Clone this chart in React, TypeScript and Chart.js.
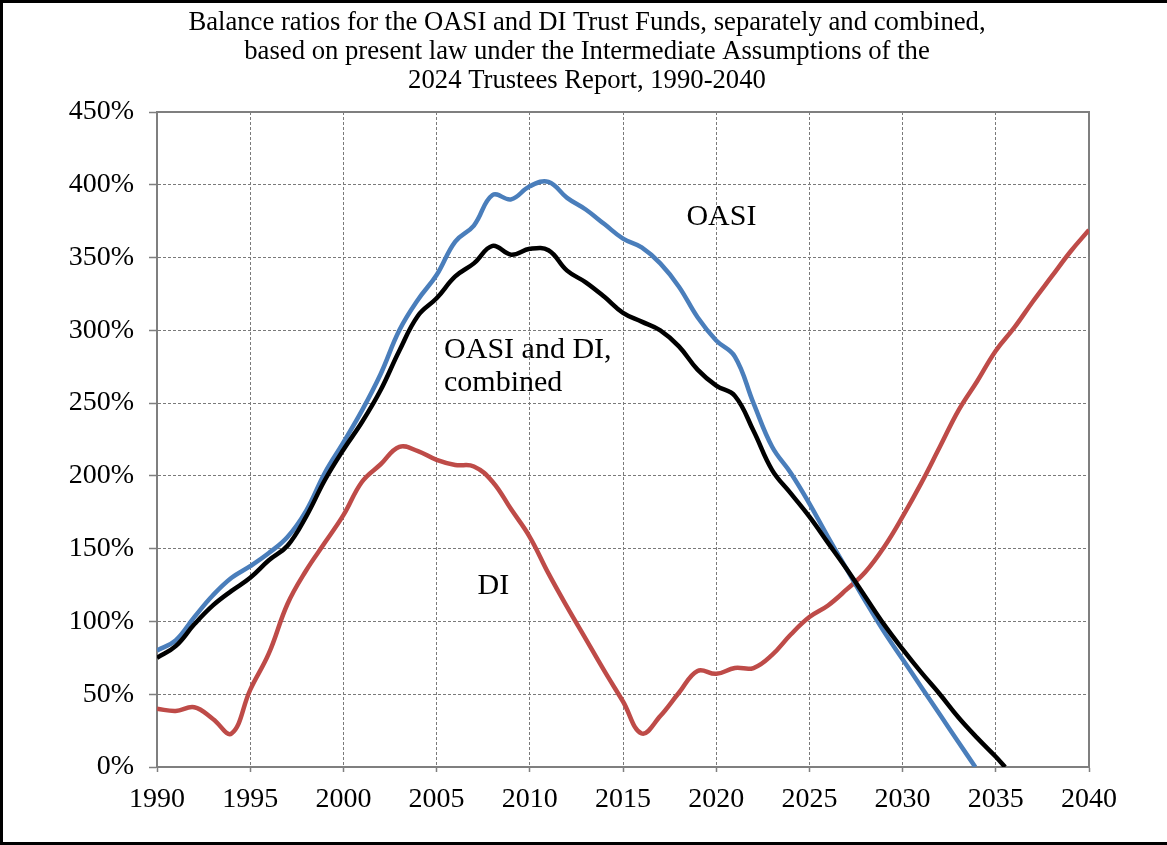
import React, { useEffect, useRef } from "react";
import { Chart, registerables } from "chart.js";

Chart.register(...registerables);

const titleLines = [
  "Balance ratios for the OASI and DI Trust Funds, separately and combined,",
  "based on present law under the Intermediate Assumptions of the",
  "2024 Trustees Report, 1990-2040",
];

const years = [
  1990, 1991, 1992, 1993, 1994, 1995, 1996, 1997, 1998, 1999,
  2000, 2001, 2002, 2003, 2004, 2005, 2006, 2007, 2008, 2009,
  2010, 2011, 2012, 2013, 2014, 2015, 2016, 2017, 2018, 2019,
  2020, 2021, 2022, 2023, 2024, 2025, 2026, 2027, 2028, 2029,
  2030, 2031, 2032, 2033, 2034, 2035, 2036, 2037, 2038, 2039, 2040,
];

// OASI Trust Fund ratio (%), null after depletion
const oasi = [
  80, 87, 103, 118, 130, 138, 147, 158, 176, 202,
  223, 245, 270, 300, 321, 338, 361, 372, 393, 390,
  399, 402, 391, 383, 373, 363, 357, 346, 330, 309,
  293, 282, 250, 220, 202, 181, 158, 136, 114, 93,
  74, 55, 36, 17, null, null, null, null, null, null, null,
];
const oasiDepletion = [2033.9, 0];

// OASI and DI combined (%)
const combined = [
  75, 83, 98, 111, 121, 130, 142, 152, 172, 197,
  218, 237, 259, 286, 310, 322, 337, 346, 358, 352,
  356, 355, 341, 333, 323, 312, 306, 300, 289, 273,
  262, 255, 231, 204, 188, 172, 154, 136, 117, 98,
  81, 65, 50, 34, 20, 7, null, null, null, null, null,
];
const combinedDepletion = [2035.5, 0];

// DI Trust Fund ratio (%)
const di = [
  40, 38.5, 41, 33, 23, 53, 78, 112, 135, 154,
  173, 196, 208, 220, 217, 211, 207.5, 206.5, 196, 177,
  158, 133, 110, 88, 66, 45, 23, 35, 51, 66,
  64, 68, 68, 77, 91, 103, 111, 122, 134, 151,
  172, 195, 220, 245, 265, 286, 302, 320, 337, 354, 369,
];

const yTicks = [0, 50, 100, 150, 200, 250, 300, 350, 400, 450];

const labelTexts = ["OASI", "OASI and DI,", "combined", "DI"];
const labelYears = [2018.4, 2005.4, 2005.4, 2007.2];
const labelValues = [378, 286.5, 264, 124.3];

const SERIF = '"Liberation Serif", "Times New Roman", serif';

function toPoints(vals: (number | null)[], end?: number[]) {
  const pts: { x: number; y: number }[] = [];
  years.forEach((yr, i) => {
    const v = vals[i];
    if (v !== null && v !== undefined) pts.push({ x: yr, y: v });
  });
  if (end) pts.push({ x: end[0], y: end[1] });
  return pts;
}

const titlePlugin = {
  id: "blockTitle",
  afterDraw(chart: any) {
    const { ctx } = chart;
    ctx.save();
    ctx.fillStyle = "#000";
    ctx.font = `26.7px ${SERIF}`;
    ctx.textAlign = "center";
    ctx.textBaseline = "middle";
    titleLines.forEach((line, i) => {
      ctx.fillText(line, 587, 22.5 + i * 29);
    });
    ctx.restore();
  },
};

const framePlugin = {
  id: "frame",
  beforeDatasetsDraw(chart: any) {
    const { ctx, chartArea } = chart;
    ctx.save();
    ctx.strokeStyle = "#7f7f7f";
    ctx.lineWidth = 2;
    ctx.strokeRect(chartArea.left, chartArea.top, chartArea.right - chartArea.left, chartArea.bottom - chartArea.top);
    ctx.restore();
  },
  afterDraw(chart: any) {
    const { ctx, width, height } = chart;
    ctx.save();
    ctx.fillStyle = "#000";
    ctx.fillRect(0, 0, width, 3);
    ctx.fillRect(0, 0, 3, height);
    ctx.fillRect(0, height - 3, width, 3);
    ctx.restore();
  },
};

const labelPlugin = {
  id: "seriesLabels",
  afterDatasetsDraw(chart: any) {
    const { ctx, scales } = chart;
    ctx.save();
    ctx.fillStyle = "#000";
    ctx.font = `30px ${SERIF}`;
    ctx.textAlign = "left";
    ctx.textBaseline = "middle";
    labelTexts.forEach((t, i) => {
      ctx.fillText(t, scales.x.getPixelForValue(labelYears[i]), scales.y.getPixelForValue(labelValues[i]));
    });
    ctx.restore();
  },
};

export default function App() {
  const ref = useRef<HTMLCanvasElement>(null);
  useEffect(() => {
    if (!ref.current) return;
    const gridCommon = {
      color: "#7a7a7a",
      lineWidth: 1,
      tickColor: "#7f7f7f",
      tickBorderDash: [],
      tickWidth: 1.5,
    };
    const lineCommon = {
      borderWidth: 4.5,
      pointRadius: 0,
      tension: 0.4,
      borderJoinStyle: "round" as const,
    };
    const chart = new Chart(ref.current, {
      type: "line",
      data: {
        datasets: [
          {
            label: "OASI and DI, combined",
            data: toPoints(combined, combinedDepletion),
            borderColor: "#000000",
            order: 0,
            ...lineCommon,
          },
          {
            label: "OASI",
            data: toPoints(oasi, oasiDepletion),
            borderColor: "#4a7ebb",
            order: 1,
            ...lineCommon,
          },
          {
            label: "DI",
            data: toPoints(di),
            borderColor: "#be4b48",
            order: 2,
            ...lineCommon,
          },
        ],
      },
      options: {
        animation: false,
        responsive: true,
        maintainAspectRatio: false,
        layout: { padding: { top: 112, left: 0, right: 78, bottom: 0 } },
        plugins: {
          legend: { display: false },
          tooltip: { enabled: false },
          title: { display: false },
        },
        scales: {
          x: {
            type: "linear",
            min: 1990,
            max: 2040,
            ticks: {
              stepSize: 5,
              color: "#000",
              font: { family: SERIF, size: 28 },
              padding: 11,
              callback: (v: any) => String(v),
              maxRotation: 0,
            },
            grid: { ...gridCommon, tickLength: 5 },
            border: { display: true, color: "#7f7f7f", width: 2, dash: [3, 2] },
            afterFit: (s: any) => {
              s.height = 78;
            },
          },
          y: {
            min: 0,
            max: 450,
            afterBuildTicks: (s: any) => {
              s.ticks = yTicks.map((v) => ({ value: v }));
            },
            ticks: {
              color: "#000",
              font: { family: SERIF, size: 28 },
              padding: 15,
              callback: (v: any) => `${v}%`,
            },
            grid: { ...gridCommon, tickLength: 8 },
            border: { display: true, color: "#7f7f7f", width: 2, dash: [3, 2] },
            afterFit: (s: any) => {
              s.width = 157;
            },
          },
        },
      },
      plugins: [titlePlugin, framePlugin, labelPlugin],
    });
    return () => chart.destroy();
  }, []);
  return (
    <div style={{ position: "absolute", left: 0, top: 0, width: 1167, height: 845, background: "#fff" }}>
      <canvas ref={ref} />
    </div>
  );
}
